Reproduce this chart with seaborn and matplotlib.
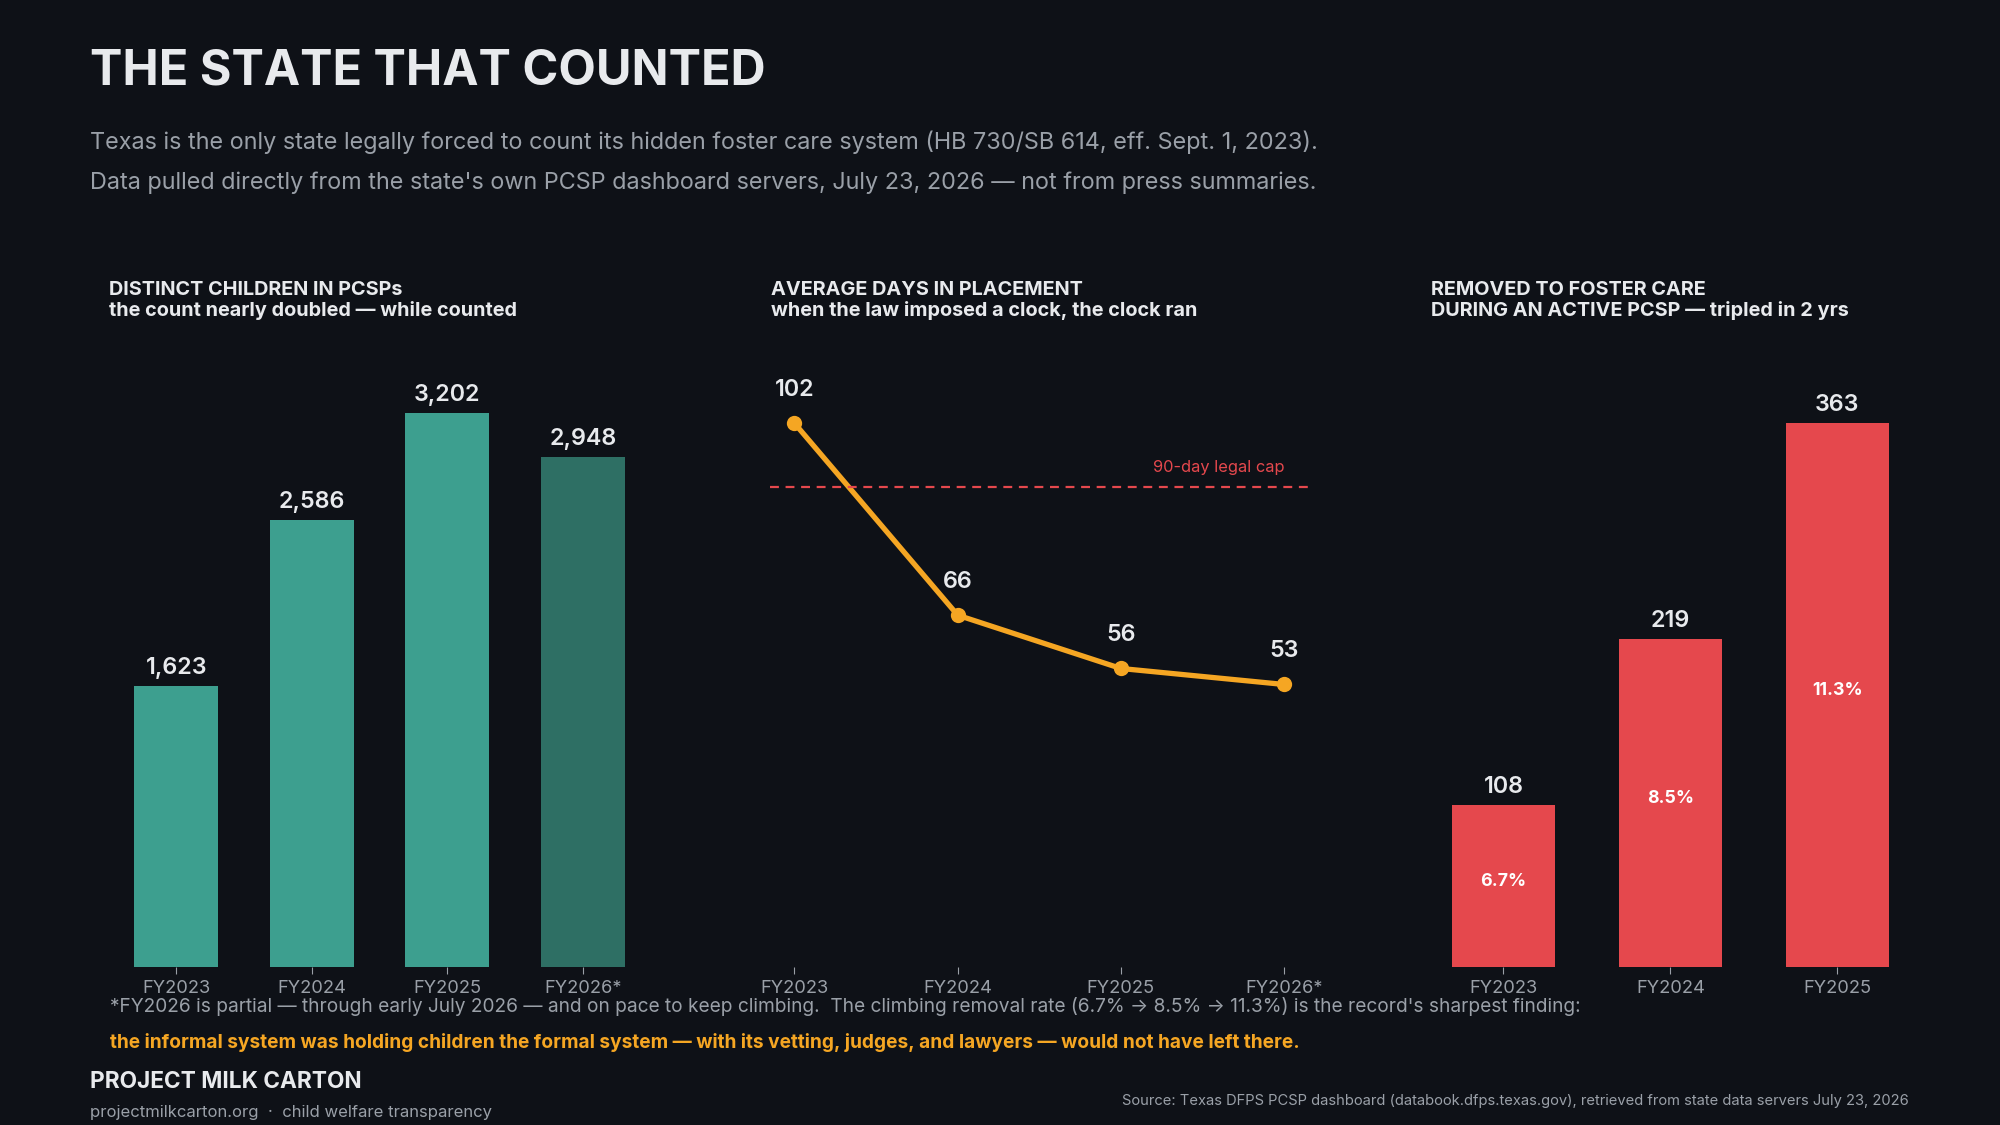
import matplotlib.pyplot as plt
import pandas as pd
import seaborn as sns

# chart data
years_a = ['FY2023', 'FY2024', 'FY2025', 'FY2026*']
children = [1623, 2586, 3202, 2948]

years_b = ['FY2023', 'FY2024', 'FY2025', 'FY2026*']
avg_days = [102, 66, 56, 53]
legal_cap = 90

years_c = ['FY2023', 'FY2024', 'FY2025']
removed = [108, 219, 363]
removal_rate = ['6.7%', '8.5%', '11.3%']

BG = '#0e1117'
WHITE = '#e8eaed'
GRAY = '#9aa0a8'
TEAL = '#3d9f8f'
TEAL_DARK = '#2e6f64'
RED = '#e5484d'
ORANGE = '#f5a623'

sns.set_theme(style='white')
plt.rcParams['font.family'] = ['Inter', 'DejaVu Sans']
plt.rcParams['axes.facecolor'] = BG
plt.rcParams['figure.facecolor'] = BG

fig = plt.figure(figsize=(20, 11.25), dpi=100)

ax1 = fig.add_axes([0.0542, 0.1404, 0.2712, 0.5414])
ax2 = fig.add_axes([0.3850, 0.1404, 0.2693, 0.5414])
ax3 = fig.add_axes([0.7150, 0.1404, 0.2404, 0.5414])


def style_axis(ax):
    for s in ax.spines.values():
        s.set_visible(False)
    ax.set_yticks([])
    ax.set_xlabel('')
    ax.set_ylabel('')
    ax.tick_params(axis='x', colors=GRAY, labelcolor=GRAY, labelsize=13.2,
                   length=5, width=0.8, pad=4, bottom=True)
    ax.set_facecolor(BG)


# panel 1: distinct children
df_a = pd.DataFrame({'year': years_a, 'count': children})
sns.barplot(data=df_a, x='year', y='count', hue='year',
            palette=[TEAL, TEAL, TEAL, TEAL_DARK], width=0.62,
            saturation=1, legend=False, linewidth=0, edgecolor='none', ax=ax1)
for i, v in enumerate(children):
    ax1.annotate(f'{v:,}', (i, v), xytext=(0, 5), textcoords='offset points',
                 ha='center', va='bottom', color=WHITE, fontsize=16.8, fontweight='semibold')
ax1.set_xlim(-0.5, 3.5)
ax1.set_ylim(0, max(children) * 1.1)
style_axis(ax1)

# panel 2: average days
df_b = pd.DataFrame({'pos': range(len(years_b)), 'days': avg_days})
sns.lineplot(data=df_b, x='pos', y='days', color=ORANGE, linewidth=3.8,
             marker='o', markersize=11, markeredgewidth=0, ax=ax2)
ax2.axhline(legal_cap, color=RED, linestyle=(0, (4, 3)), linewidth=1.6)
ax2.annotate('90-day legal cap', (len(years_b) - 1, legal_cap), xytext=(0, 9),
             textcoords='offset points', ha='right', va='bottom', color=RED, fontsize=11.8)
for i, v in enumerate(avg_days):
    ax2.annotate(f'{v}', (i, v), xytext=(0, 16), textcoords='offset points',
                 ha='center', va='bottom', color=WHITE, fontsize=16.8, fontweight='semibold')
ax2.set_xticks(range(len(years_b)))
ax2.set_xticklabels(years_b)
ax2.set_xlim(-0.15, 3.15)
ax2.set_ylim(0, max(avg_days) * 1.12)
style_axis(ax2)

# panel 3: removed to foster care
df_c = pd.DataFrame({'year': years_c, 'removed': removed})
sns.barplot(data=df_c, x='year', y='removed', color=RED, width=0.62,
            saturation=1, linewidth=0, edgecolor='none', ax=ax3)
for i, v in enumerate(removed):
    ax3.annotate(f'{v}', (i, v), xytext=(0, 5), textcoords='offset points',
                 ha='center', va='bottom', color=WHITE, fontsize=16.8, fontweight='semibold')
    ax3.annotate(removal_rate[i], (i, v / 2), xytext=(0, 3), textcoords='offset points',
                 ha='center', va='center', color='white', fontsize=12.8, fontweight='bold')
ax3.set_xlim(-0.44, 2.44)
ax3.set_ylim(0, max(removed) * 1.12)
style_axis(ax3)

# panel titles
panel_titles = [
    (ax1, 'DISTINCT CHILDREN IN PCSPs', 'the count nearly doubled \u2014 while counted'),
    (ax2, 'AVERAGE DAYS IN PLACEMENT', 'when the law imposed a clock, the clock ran'),
    (ax3, 'REMOVED TO FOSTER CARE', 'DURING AN ACTIVE PCSP \u2014 tripled in 2 yrs'),
]
for ax, l1, l2 in panel_titles:
    x0 = ax.get_position().x0
    fig.text(x0 + 0.0005, 0.7378, l1, color=WHITE, fontsize=14.3, fontweight='bold', va='baseline')
    fig.text(x0 + 0.0005, 0.7190, l2, color=WHITE, fontsize=14.3, fontweight='bold', va='baseline')

# header
fig.text(0.045, 0.9253, 'THE STATE THAT COUNTED', color=WHITE, fontsize=35,
         fontweight='bold', va='baseline')
fig.text(0.045, 0.8679, 'Texas is the only state legally forced to count its hidden foster care '
         'system (HB 730/SB 614, eff. Sept. 1, 2023).', color=GRAY, fontsize=16.85, va='baseline')
fig.text(0.045, 0.8323, "Data pulled directly from the state's own PCSP dashboard servers, "
         'July 23, 2026 \u2014 not from press summaries.', color=GRAY, fontsize=16.85, va='baseline')

# footer
fig.text(0.055, 1 - 1006 / 1125, '*FY2026 is partial \u2014 through early July 2026 \u2014 and on pace '
         'to keep climbing.  The climbing removal rate (6.7% \u2192 8.5% \u2192 11.3%) is the '
         "record's sharpest finding:", color=GRAY, fontsize=13.75, va='center')
fig.text(0.055, 1 - 1042 / 1125, 'the informal system was holding children the formal system '
         '\u2014 with its vetting, judges, and lawyers \u2014 would not have left there.',
         color=ORANGE, fontsize=13.75, fontweight='bold', va='center')
fig.text(0.0448, 1 - 1082 / 1125, 'PROJECT MILK CARTON', color=WHITE, fontsize=16.3,
         fontweight='bold', va='center')
fig.text(0.0448, 1 - 1113 / 1125, 'projectmilkcarton.org  \u00b7  child welfare transparency',
         color=GRAY, fontsize=12, va='center')
fig.text(0.9545, 1 - 1101 / 1125, 'Source: Texas DFPS PCSP dashboard (databook.dfps.texas.gov), '
         'retrieved from state data servers July 23, 2026', color=GRAY, fontsize=10.6,
         ha='right', va='center')

fig.savefig('out.png', dpi=100, facecolor=BG)
